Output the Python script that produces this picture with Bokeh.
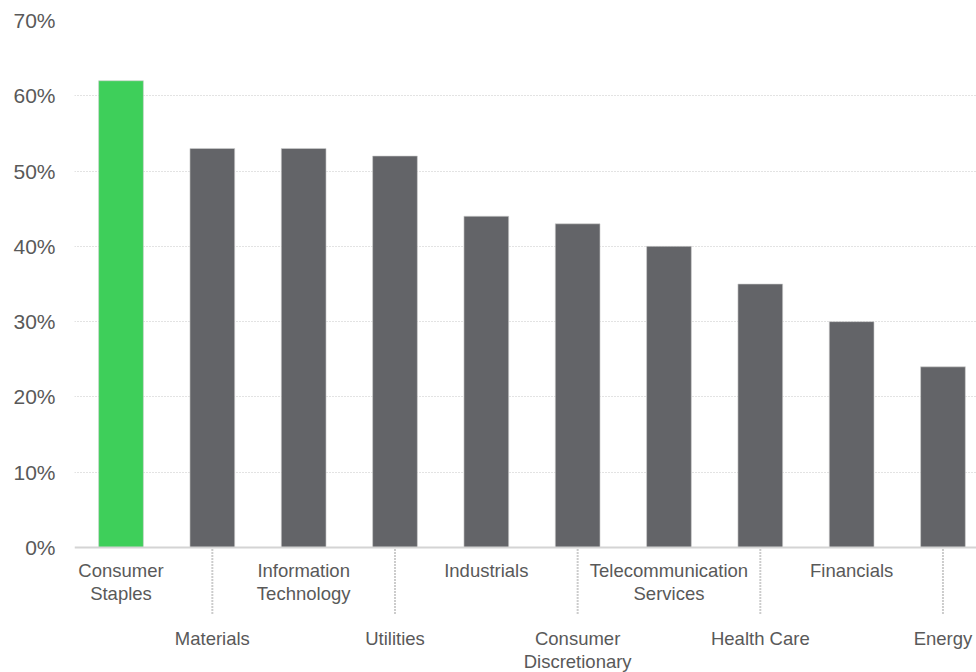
from bokeh.plotting import figure
from bokeh.models import Range1d, FixedTicker, PrintfTickFormatter, Span, ColumnDataSource
from bokeh.core.properties import value
from bokeh.embed import file_html
from bokeh.resources import INLINE

categories = ["Consumer\nStaples", "Materials", "Information\nTechnology", "Utilities",
              "Industrials", "Consumer\nDiscretionary", "Telecommunication\nServices",
              "Health Care", "Financials", "Energy"]
values = [62, 53, 53, 52, 44, 43, 40, 35, 30, 24]
highlight = [True, False, False, False, False, False, False, False, False, False]
y_ticks = [0, 10, 20, 30, 40, 50, 60, 70]

GREEN = "#3ecf5a"
GRAY = "#636468"
TEXT = "#595959"
FONT = "Liberation Sans"

W, H = 976, 672
frame_left, frame_top, frame_bottom_px = 74, 20, 547  # frame top (70%) and 0% baseline in canvas px
px_per_unit = (frame_bottom_px - frame_top) / 70.0
y_start = -(H - frame_bottom_px) / px_per_unit

spacing = 91.33
x_start = -(120.5 - 74) / spacing
x_end = x_start + (W - frame_left) / spacing

p = figure(width=W, height=H, output_backend="svg", toolbar_location=None,
           x_range=Range1d(x_start, x_end), y_range=Range1d(y_start, 70),
           min_border_left=frame_left, min_border_right=0, min_border_top=frame_top,
           min_border_bottom=0)
p.outline_line_color = None
p.background_fill_color = "white"
p.border_fill_color = "white"

xs = list(range(len(categories)))
colors = [GREEN if h else GRAY for h in highlight]
src = ColumnDataSource(dict(x=xs, top=values, color=colors))
p.vbar(x="x", top="top", bottom=0, width=0.49, color="color", line_color="#d0d0d0",
       line_width=0.6, source=src)

# grid
p.xgrid.visible = False
p.ygrid.ticker = FixedTicker(ticks=[t for t in y_ticks if t > 0])
p.ygrid.grid_line_color = "#c6c6c6"
p.ygrid.grid_line_dash = "1 2"
p.ygrid.grid_line_width = 1
p.add_layout(Span(location=0, dimension="width", line_color="#d4d4d4", line_width=2))

# axes
p.xaxis.visible = False
ya = p.yaxis[0]
ya.ticker = FixedTicker(ticks=y_ticks)
ya.formatter = PrintfTickFormatter(format="%d%%")
ya.axis_line_color = None
ya.major_tick_line_color = None
ya.minor_tick_line_color = None
ya.major_tick_out = 0
ya.major_label_standoff = 19
ya.major_label_text_font = FONT
ya.major_label_text_font_size = "21px"
ya.major_label_text_color = TEXT

# category labels (staggered)
upper = [i for i in xs if i % 2 == 0]
lower = [i for i in xs if i % 2 == 1]
p.text(x=upper, y=[0] * len(upper), text=[categories[i] for i in upper],
       text_align="center", text_baseline="top", y_offset=12,
       text_font=value(FONT), text_font_size="18.5px", text_color=TEXT, text_line_height=1.13)
p.text(x=lower, y=[0] * len(lower), text=[categories[i] for i in lower],
       text_align="center", text_baseline="top", y_offset=80,
       text_font=value(FONT), text_font_size="18.5px", text_color=TEXT, text_line_height=1.13)

# dotted leader lines for lower labels
leader_len = 66 / px_per_unit
p.segment(x0=lower, y0=[-2 / px_per_unit] * len(lower), x1=lower,
          y1=[-leader_len] * len(lower), line_color="#9a9a9a", line_width=2,
          line_dash="1 2")

open("out.html", "w").write(file_html(p, INLINE))
